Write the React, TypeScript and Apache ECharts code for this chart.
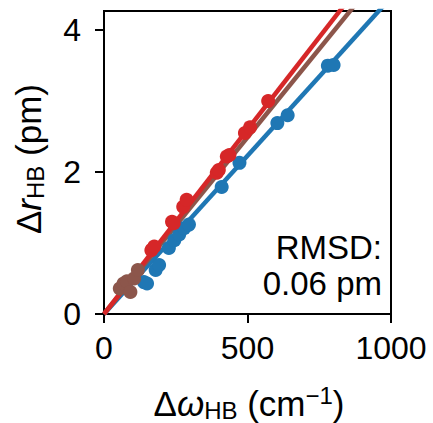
import React, { useEffect, useRef } from "react";
import * as echarts from "echarts";

// Data
const blueX = [139, 150, 180, 192, 226, 245, 262, 279, 296, 410, 472, 604, 640, 780, 800];
const blueY = [0.45, 0.43, 0.62, 0.69, 0.93, 1.04, 1.12, 1.21, 1.26, 1.79, 2.13, 2.69, 2.8, 3.5, 3.51];
const brownX = [55, 68, 80, 92, 105, 118];
const brownY = [0.36, 0.43, 0.46, 0.31, 0.5, 0.62];
const redX = [165, 175, 237, 243, 276, 288, 393, 400, 428, 437, 491, 509, 572];
const redY = [0.9, 0.95, 1.3, 1.28, 1.51, 1.61, 1.99, 2.03, 2.22, 2.24, 2.55, 2.63, 3.0];
// fitted line values at x = 0 and x = 1000
const fitX = [0, 1000];
const blueFit = [0, 4.46];
const brownFit = [0, 4.98];
const redFit = [0, 5.2];
const xTicks = [0, 500, 1000];
const yTicks = [0, 2, 4];

const BLUE = "#1f77b4";
const BROWN = "#8c564b";
const RED = "#d62728";
const FONT = "Liberation Sans, Arial, sans-serif";

const zip = (xs: number[], ys: number[]) => xs.map((x, i) => [x, ys[i]]);

export default function App() {
  const ref = useRef<HTMLDivElement>(null);
  useEffect(() => {
    if (!ref.current) return;
    const chart = echarts.init(ref.current, null, { renderer: "svg" });
    const scatter = (name: string, xs: number[], ys: number[], color: string) => ({
      name,
      type: "scatter",
      data: zip(xs, ys),
      symbol: "circle",
      symbolSize: 14,
      itemStyle: { color, opacity: 1 },
      z: 2,
    });
    const fit = (name: string, ys: number[], color: string) => ({
      name,
      type: "line",
      data: zip(fitX, ys),
      symbol: "none",
      clip: true,
      lineStyle: { color, width: 4.5 },
      z: 2,
    });
    const rich = {
      n: { fontFamily: FONT, fontSize: 35, lineHeight: 44, verticalAlign: "middle", fill: "#000" },
      i: { fontFamily: FONT, fontSize: 35, fontStyle: "italic", lineHeight: 44, verticalAlign: "middle", fill: "#000" },
      s: { fontFamily: FONT, fontSize: 24, lineHeight: 24, verticalAlign: "bottom", padding: [0, 0, 3, 0], fill: "#000" },
      p: { fontFamily: FONT, fontSize: 24, lineHeight: 24, verticalAlign: "top", padding: [2, 0, 0, 0], fill: "#000" },
    };
    const tickFmt = (v: number) => String(v);
    chart.setOption({
      animation: false,
      backgroundColor: "#fff",
      grid: {
        left: 104,
        right: 42,
        top: 11,
        bottom: 109,
        show: true,
        borderColor: "#000",
        borderWidth: 2,
        backgroundColor: "transparent",
      },
      xAxis: {
        type: "value",
        min: 0,
        max: 1000,
        interval: 500,
        axisLine: { show: true, onZero: false, lineStyle: { color: "#000", width: 2 } },
        axisTick: { show: true, length: 9, inside: false, lineStyle: { color: "#000", width: 2 }, customValues: xTicks },
        axisLabel: { margin: 18, fontFamily: FONT, fontSize: 32, color: "#000", customValues: xTicks, formatter: tickFmt },
        splitLine: { show: false },
      },
      yAxis: {
        type: "value",
        min: 0,
        max: 4.27,
        interval: 2,
        axisLine: { show: true, onZero: false, lineStyle: { color: "#000", width: 2 } },
        axisTick: { show: true, length: 9, inside: false, lineStyle: { color: "#000", width: 2 }, customValues: yTicks },
        axisLabel: { margin: 23, fontFamily: FONT, fontSize: 32, color: "#000", customValues: yTicks, formatter: tickFmt },
        splitLine: { show: false },
      },
      series: [
        scatter("blue", blueX, blueY, BLUE),
        fit("blueFit", blueFit, BLUE),
        scatter("brown", brownX, brownY, BROWN),
        fit("brownFit", brownFit, BROWN),
        scatter("red", redX, redY, RED),
        fit("redFit", redFit, RED),
      ],
      graphic: [
        {
          type: "text",
          x: 249,
          y: 403,
          z: 10,
          style: {
            text: "{n|Δ}{i|ω}{s|HB}{n| (cm}{p|−1}{n|)}",
            align: "center",
            verticalAlign: "middle",
            rich,
          },
        },
        {
          type: "text",
          x: 28,
          y: 159,
          rotation: Math.PI / 2,
          z: 10,
          style: {
            text: "{n|Δ}{i|r}{s|HB}{n| (pm)}",
            align: "center",
            verticalAlign: "middle",
            rich,
          },
        },
        {
          type: "text",
          x: 382,
          y: 264,
          z: 10,
          style: {
            text: "RMSD:",
            align: "right",
            verticalAlign: "bottom",
            fontFamily: FONT,
            fontSize: 33,
            fill: "#000",
          },
        },
        {
          type: "text",
          x: 382,
          y: 300,
          z: 10,
          style: {
            text: "0.06 pm",
            align: "right",
            verticalAlign: "bottom",
            fontFamily: FONT,
            fontSize: 33,
            fill: "#000",
          },
        },
      ],
    });
    return () => chart.dispose();
  }, []);
  return <div ref={ref} style={{ width: 433, height: 423, position: "absolute", left: 0, top: 0 }} />;
}
